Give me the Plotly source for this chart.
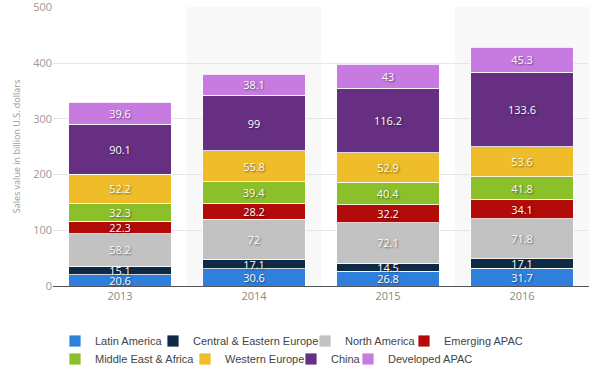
import plotly.graph_objects as go

years = ["2013", "2014", "2015", "2016"]
latin_america = [20.6, 30.6, 26.8, 31.7]
central_eastern_europe = [15.1, 17.1, 14.5, 17.1]
north_america = [58.2, 72, 72.1, 71.8]
emerging_apac = [22.3, 28.2, 32.2, 34.1]
middle_east_africa = [32.3, 39.4, 40.4, 41.8]
western_europe = [52.2, 55.8, 52.9, 53.6]
china = [90.1, 99, 116.2, 133.6]
developed_apac = [39.6, 38.1, 43, 45.3]
y_ticks = [0, 100, 200, 300, 400, 500]

series = [
    ("Latin America", latin_america, "#2f80dc"),
    ("Central & Eastern Europe", central_eastern_europe, "#0f2a45"),
    ("North America", north_america, "#c2c2c2"),
    ("Emerging APAC", emerging_apac, "#b30a0a"),
    ("Middle East & Africa", middle_east_africa, "#8cc02a"),
    ("Western Europe", western_europe, "#f0bd2a"),
    ("China", china, "#662f82"),
    ("Developed APAC", developed_apac, "#c77be0"),
]

# legend entry placement (text start x in px, row center y in px)
legend_pos = [(94, 341), (192, 341), (344, 341), (443, 341),
              (94, 359), (224, 359), (330, 359), (387, 359)]

FONT = "Open Sans, DejaVu Sans, sans-serif"
LEG_FONT = "Liberation Sans, Arial, sans-serif"
W, H = 600, 372

fig = go.Figure()
legend_layouts = {}
for k, (name, vals, color) in enumerate(series):
    leg = "legend" if k == 0 else f"legend{k + 1}"
    fig.add_trace(go.Bar(
        x=years, y=vals, name=name, legend=leg,
        marker=dict(color=color, line=dict(color="rgba(255,255,255,0.8)", width=1)),
        text=[f"{v:g}" for v in vals],
        textposition="inside", insidetextanchor="middle",
        textangle=0,
        textfont=dict(color="#ffffff", size=11, family=FONT,
                      shadow="1px 1px 2px rgba(0,0,0,0.55)"),
        hoverinfo="skip",
    ))
    tx, ty = legend_pos[k]
    legend_layouts[leg] = dict(
        orientation="h", xanchor="left", yanchor="middle",
        xref="container", yref="container",
        x=(tx - 39) / W, y=1 - ty / H,
        font=dict(size=11, color="#444", family=LEG_FONT),
        bgcolor="rgba(0,0,0,0)", borderwidth=0,
        itemclick=False, itemdoubleclick=False)

# alternating background bands for 2014 and 2016
for i in (1, 3):
    fig.add_shape(type="rect", xref="x", yref="paper", x0=i - 0.5, x1=i + 0.5,
                  y0=0, y1=1, fillcolor="#f8f8f8", line_width=0, layer="below")

fig.update_layout(
    width=W, height=H,
    margin=dict(l=52.5, r=10.5, t=6.7, b=86.3, autoexpand=False),
    barmode="stack", bargap=0.233,
    plot_bgcolor="white", paper_bgcolor="white",
    font=dict(family=FONT, color="#999"),
    showlegend=True,
    uniformtext=dict(minsize=11, mode="show"),
    xaxis=dict(showgrid=False, showline=True, linecolor="#555", linewidth=1,
               ticks="", automargin=False, tickfont=dict(size=11, color="#888")),
    yaxis=dict(range=[0, 501], tickmode="array", tickvals=y_ticks,
               ticktext=[str(v) for v in y_ticks],
               showgrid=True, gridcolor="#e6e6e6", gridwidth=1,
               zeroline=False, showline=False, ticks="", automargin=False,
               ticklabeloverflow="allow",
               tickfont=dict(size=11, color="#999"),
               title=dict(text="Sales value in billion U.S. dollars",
                          font=dict(size=9, color="#999"), standoff=10)),
    **legend_layouts,
)

fig.write_html("out.html", config={"displayModeBar": False},
               post_script="document.body.style.margin='0';document.body.style.overflow='hidden';")
